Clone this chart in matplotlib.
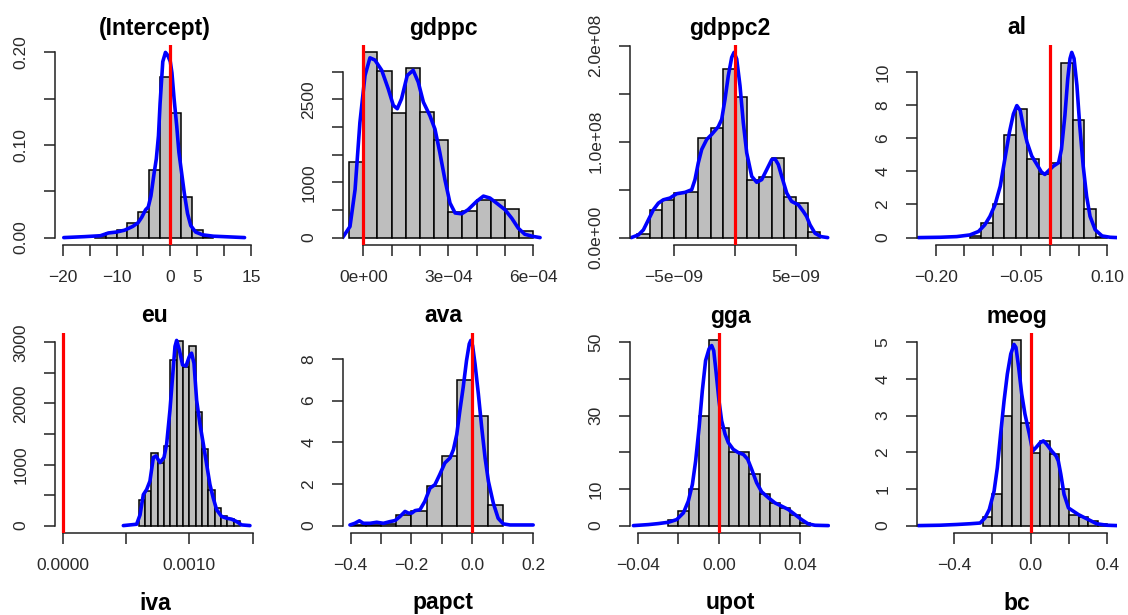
import numpy as np
import matplotlib.pyplot as plt

plt.rcParams["font.family"] = ["Liberation Sans", "DejaVu Sans"]

MINUS = "\u2212"

# ---------------- data ----------------
# (Intercept)
intercept_start, intercept_binw = -14.0, 2.0
intercept_heights = [0.002, 0.005, 0.0087, 0.016, 0.028, 0.073, 0.173, 0.135, 0.044, 0.008, 0.001]
intercept_dens_x = [-19.8, -16, -13, -11.5, -10, -8.5, -7, -6, -5.3, -4.6, -4.1, -3.6, -3.0, -2.6,
                    -2.2, -1.9, -1.4, -0.9, -0.5, 0.0, 0.3, 0.7, 1.2, 1.6, 2.1, 2.6, 3.2, 3.8, 4.7,
                    6, 8, 10, 13.8]
intercept_dens_y = [0.0, 0.001, 0.002, 0.005, 0.006, 0.008, 0.012, 0.016, 0.022, 0.030, 0.033, 0.045,
                    0.070, 0.085, 0.11, 0.145, 0.19, 0.200, 0.197, 0.19, 0.178, 0.15, 0.12, 0.092,
                    0.07, 0.048, 0.026, 0.013, 0.006, 0.003, 0.0015, 0.001, 0.0]

# gdppc (x in 1e-4)
gdppc_start, gdppc_binw = -0.5e-4, 0.5e-4
gdppc_heights = [1373, 3348, 3007, 2254, 3068, 2278, 1768, 456, 474, 674, 687, 522, 128]
gdppc_dens_x = np.array([-0.73, -0.47, -0.29, -0.12, 0.06, 0.235, 0.41, 0.65, 0.88, 1.06, 1.2, 1.35,
                         1.55, 1.76, 1.94, 2.12, 2.35, 2.53, 2.7, 2.88, 3.06, 3.24, 3.47, 3.7, 4.0,
                         4.24, 4.47, 4.7, 5.0, 5.24, 5.47, 5.7, 6.0, 6.24]) * 1e-4
gdppc_dens_y = [0, 200, 870, 2080, 2930, 3250, 3210, 3025, 2690, 2390, 2330, 2510, 2930, 3025, 2810,
                2450, 2205, 1960, 1540, 1050, 625, 445, 430, 505, 655, 750, 715, 625, 505, 350, 170,
                60, 20, 0]

# gdppc2 (x in 1e-9, y in 1e8)
gdppc2_start, gdppc2_binw = -8e-9, 1e-9
gdppc2_heights = np.array([0.035, 0.29, 0.394, 0.464, 0.471, 1.04, 1.145, 1.755, 1.469, 0.604, 0.63,
                           0.83, 0.419, 0.36, 0.063]) * 1e8
gdppc2_dens_x = np.array([-8.5, -7.92, -7.51, -7.10, -6.69, -6.28, -5.87, -5.33, -4.78, -4.10, -3.55,
                          -3.28, -3.01, -2.73, -2.32, -1.91, -1.37, -1.09, -0.82, -0.55, -0.27, -0.08,
                          0.14, 0.41, 0.68, 0.96, 1.37, 1.78, 2.19, 2.60, 3.01, 3.28, 3.55, 3.83,
                          4.24, 4.64, 5.19, 5.60, 5.87, 6.15, 6.56, 7.05, 7.60]) * 1e-9
gdppc2_dens_y = np.array([0.0, 0.028, 0.080, 0.185, 0.290, 0.359, 0.394, 0.412, 0.457, 0.471, 0.499,
                          0.604, 0.778, 0.918, 1.022, 1.075, 1.155, 1.232, 1.441, 1.685, 1.877, 1.929,
                          1.860, 1.581, 1.197, 0.883, 0.638, 0.576, 0.604, 0.708, 0.813, 0.820, 0.761,
                          0.638, 0.464, 0.377, 0.342, 0.272, 0.220, 0.133, 0.045, 0.010, 0.0]) * 1e8

# al
al_start, al_binw = -0.14, 0.02
al_heights = [0.1, 0.91, 2.03, 6.2, 7.77, 4.77, 3.81, 4.48, 10.57, 7.1, 1.74, 0.06]
al_dens_x = [-0.230, -0.192, -0.163, -0.140, -0.125, -0.114, -0.105, -0.096, -0.087, -0.079, -0.071,
             -0.064, -0.058, -0.052, -0.047, -0.040, -0.032, -0.023, -0.015, -0.009, -0.003, 0.006,
             0.015, 0.020, 0.026, 0.031, 0.035, 0.038, 0.042, 0.047, 0.052, 0.058, 0.064, 0.070,
             0.079, 0.091, 0.105, 0.117]
al_dens_y = [0, 0.02, 0.06, 0.16, 0.37, 0.77, 1.28, 1.99, 3.10, 4.73, 6.35, 7.46, 7.97, 7.67, 6.75,
             5.74, 4.93, 4.42, 3.96, 3.81, 4.02, 4.32, 4.52, 5.33, 7.36, 9.59, 10.81, 11.18, 10.81,
             9.19, 6.75, 4.32, 2.49, 1.28, 0.47, 0.10, 0.02, 0]

# eu (x in 1e-3)
eu_start, eu_binw = 0.0006, 0.00005
eu_heights = [424, 562, 1196, 1031, 1306, 2712, 3015, 2602, 2933, 1858, 1251, 590, 287, 149, 110, 77]
eu_dens_x = np.array([0.479, 0.584, 0.611, 0.637, 0.663, 0.689, 0.716, 0.737, 0.768, 0.800, 0.821,
                      0.847, 0.868, 0.887, 0.900, 0.921, 0.947, 0.974, 1.000, 1.018, 1.037, 1.058,
                      1.084, 1.111, 1.137, 1.163, 1.189, 1.216, 1.255, 1.295, 1.334, 1.374, 1.413,
                      1.479]) * 1e-3
eu_dens_y = [0, 22, 176, 507, 590, 728, 1114, 1141, 1031, 1114, 1334, 1885, 2437, 2933, 3032, 2878,
             2630, 2613, 2768, 2823, 2657, 2051, 1665, 1334, 1003, 673, 452, 259, 149, 121, 105, 66,
             11, 0]

# ava
ava_start, ava_binw = -0.40, 0.05
ava_heights = [0.05, 0.05, 0.1, 0.52, 0.71, 1.88, 3.36, 6.99, 5.26, 1.0]
ava_dens_x = [-0.402, -0.386, -0.371, -0.358, -0.336, -0.314, -0.292, -0.271, -0.254, -0.238, -0.221,
              -0.210, -0.199, -0.188, -0.172, -0.156, -0.139, -0.123, -0.107, -0.090, -0.073, -0.062,
              -0.051, -0.041, -0.030, -0.019, -0.010, -0.005, 0.001, 0.009, 0.020, 0.031, 0.042,
              0.053, 0.069, 0.085, 0.102, 0.124, 0.200]
ava_dens_y = [0.03, 0.11, 0.23, 0.11, 0.11, 0.16, 0.11, 0.19, 0.24, 0.43, 0.68, 0.60, 0.60, 0.72,
              0.76, 1.16, 1.80, 1.96, 2.45, 3.01, 3.25, 3.65, 4.38, 5.50, 6.63, 7.92, 8.72, 8.89,
              8.64, 7.76, 6.31, 4.70, 3.25, 2.12, 1.08, 0.35, 0.08, 0.03, 0.03]

# gga
gga_start, gga_binw = -0.025, 0.005
gga_heights = [1.4, 3.9, 9.85, 29.9, 50.5, 26.7, 20.2, 20.2, 14.2, 8.5, 6.2, 4.8, 3.0, 0.7]
gga_dens_x = [-0.0421, -0.0348, -0.0298, -0.0249, -0.0208, -0.0175, -0.0151, -0.0131, -0.0115,
              -0.0098, -0.0082, -0.0066, -0.0049, -0.0036, -0.0026, -0.0015, 0.0, 0.0013, 0.0030,
              0.0046, 0.0070, 0.0095, 0.0120, 0.0141, 0.0161, 0.0185, 0.0210, 0.0243, 0.0275,
              0.0308, 0.0341, 0.0374, 0.0407, 0.0439, 0.0472, 0.0538]
gga_dens_y = [0, 0.27, 0.55, 0.91, 1.64, 3.47, 6.66, 11.2, 17.6, 26.7, 36.8, 45.0, 48.2, 49.1, 47.7,
              42.2, 34.0, 28.6, 24.9, 22.6, 20.8, 19.9, 19.4, 18.1, 15.3, 11.7, 9.2, 7.6, 6.2, 5.3,
              4.4, 3.0, 1.6, 0.46, 0.09, 0]

# meog
meog_start, meog_binw = -0.25, 0.05
meog_heights = [0.23, 0.85, 2.99, 5.05, 2.81, 1.99, 2.31, 1.94, 1.0, 0.30, 0.23, 0.12, 0.05]
meog_dens_x = [-0.586, -0.473, -0.386, -0.317, -0.264, -0.238, -0.216, -0.191, -0.174, -0.157,
               -0.139, -0.122, -0.104, -0.087, -0.077, -0.063, -0.047, -0.030, -0.007, 0.010,
               0.028, 0.049, 0.066, 0.083, 0.110, 0.132, 0.144, 0.157, 0.174, 0.197, 0.223,
               0.249, 0.275, 0.310, 0.344, 0.397, 0.450]
meog_dens_y = [0, 0.01, 0.03, 0.05, 0.07, 0.21, 0.44, 0.94, 1.58, 2.49, 3.40, 4.13, 4.68, 4.94,
               4.86, 4.32, 3.59, 3.04, 2.49, 2.03, 2.13, 2.26, 2.31, 2.22, 2.03, 1.90, 1.76, 1.40,
               0.85, 0.48, 0.39, 0.30, 0.23, 0.14, 0.05, 0.01, 0]

# reference value marked by the red line
ref_value = 0.0

next_row_titles = ["iva", "papct", "upot", "bc"]

panels = [
    dict(title="(Intercept)", start=intercept_start, binw=intercept_binw, h=intercept_heights,
         dx=intercept_dens_x, dy=intercept_dens_y, xlim=(-21.43, 15.74),
         xticks=np.arange(-20, 16, 5), xlabels=[MINUS + "20", "", MINUS + "10", "", "0", "5", "", "15"],
         yticks=np.arange(0, 0.21, 0.05), ylabels=["0.00", "", "0.10", "", "0.20"]),
    dict(title="gdppc", start=gdppc_start, binw=gdppc_binw, h=gdppc_heights,
         dx=gdppc_dens_x, dy=gdppc_dens_y, xlim=(-0.7166e-4, 6.343e-4),
         xticks=np.arange(0, 7) * 1e-4, xlabels=["0e+00", "", "", "3e" + MINUS + "04", "", "", "6e" + MINUS + "04"],
         yticks=np.arange(0, 3001, 500), ylabels=["0", "", "1000", "", "", "2500", ""]),
    dict(title="gdppc2", start=gdppc2_start, binw=gdppc2_binw, h=gdppc2_heights,
         dx=gdppc2_dens_x, dy=gdppc2_dens_y, xlim=(-8.607e-9, 7.787e-9),
         xticks=[-5e-9, 0, 5e-9], xlabels=[MINUS + "5e" + MINUS + "09", "", "5e" + MINUS + "09"],
         yticks=np.arange(0, 2.01, 0.5) * 1e8, ylabels=["0.0e+00", "", "1.0e+08", "", "2.0e+08"]),
    dict(title="al", start=al_start, binw=al_binw, h=al_heights,
         dx=al_dens_x, dy=al_dens_y, xlim=(-0.2325, 0.1171),
         xticks=np.arange(-0.20, 0.101, 0.05),
         xlabels=[MINUS + "0.20", "", "", MINUS + "0.05", "", "", "0.10"],
         yticks=np.arange(0, 11, 2), ylabels=["0", "2", "4", "6", "8", "10"]),
    dict(title="eu", start=eu_start, binw=eu_binw, h=eu_heights,
         dx=eu_dens_x, dy=eu_dens_y, xlim=(-6.08e-5, 1.519e-3),
         xticks=[0, 0.0005, 0.0010, 0.0015], xlabels=["0.0000", "", "0.0010", ""],
         yticks=np.arange(0, 3001, 500), ylabels=["0", "", "1000", "", "2000", "", "3000"]),
    dict(title="ava", start=ava_start, binw=ava_binw, h=ava_heights,
         dx=ava_dens_x, dy=ava_dens_y, xlim=(-0.4248, 0.2323),
         xticks=np.arange(-0.4, 0.21, 0.1),
         xlabels=[MINUS + "0.4", "", MINUS + "0.2", "", "0.0", "", "0.2"],
         yticks=np.arange(0, 9, 2), ylabels=["0", "2", "4", "6", "8"]),
    dict(title="gga", start=gga_start, binw=gga_binw, h=gga_heights,
         dx=gga_dens_x, dy=gga_dens_y, xlim=(-0.04378, 0.0546),
         xticks=np.arange(-0.04, 0.041, 0.02), xlabels=[MINUS + "0.04", "", "0.00", "", "0.04"],
         yticks=np.arange(0, 51, 10), ylabels=["0", "10", "", "30", "", "50"]),
    dict(title="meog", start=meog_start, binw=meog_binw, h=meog_heights,
         dx=meog_dens_x, dy=meog_dens_y, xlim=(-0.593, 0.450),
         xticks=np.arange(-0.4, 0.41, 0.2), xlabels=[MINUS + "0.4", "", "0.0", "", "0.4"],
         yticks=np.arange(0, 6, 1), ylabels=["0", "1", "2", "3", "4", "5"]),
]

# ---------------- layout (pixels of the 1128x615 canvas) ----------------
W, H = 1128, 615
col_left = [55, 343, 630, 917]
plot_w = 200
row_top = [45, 333]
plot_h = 200

fig = plt.figure(figsize=(W / 100, H / 100), dpi=100)

for i, p in enumerate(panels):
    r, c = divmod(i, 4)
    ax = fig.add_axes([col_left[c] / W, 1 - (row_top[r] + plot_h) / H, plot_w / W, plot_h / H])

    heights = np.asarray(p["h"], dtype=float)
    edges = p["start"] + p["binw"] * np.arange(len(heights))
    ax.bar(edges, heights, width=p["binw"], align="edge", color="#bebebe",
           edgecolor="black", linewidth=1.1, zorder=1)
    ax.plot(p["dx"], p["dy"], color="blue", linewidth=2.6, zorder=2, solid_capstyle="round")
    ax.axvline(ref_value, color="red", linewidth=2.3, zorder=3)

    top = max(heights.max(), np.max(p["dy"]))
    ax.set_ylim(-0.04 * top, 1.04 * top)
    ax.set_xlim(*p["xlim"])

    ax.set_xticks(p["xticks"])
    ax.set_xticklabels(p["xlabels"])
    ax.set_yticks(p["yticks"])
    ax.set_yticklabels(p["ylabels"])
    ax.spines["top"].set_visible(False)
    ax.spines["right"].set_visible(False)
    for side in ("left", "bottom"):
        ax.spines[side].set_linewidth(1.1)
        ax.spines[side].set_color("#222222")
    ax.spines["bottom"].set_bounds(p["xticks"][0], p["xticks"][-1])
    ax.spines["left"].set_bounds(p["yticks"][0], p["yticks"][-1])
    ax.tick_params(axis="both", direction="out", length=8, width=1.1, color="#222222",
                   labelsize=12.5, labelcolor="#2a2a2a")
    ax.tick_params(axis="x", pad=10)
    ax.tick_params(axis="y", pad=11, labelrotation=90)
    for lbl in ax.get_yticklabels():
        lbl.set_va("center")
    ax.set_facecolor("none")

    fig.text((col_left[c] + plot_w / 2) / W, 1 - (row_top[r] - 17) / H, p["title"],
             ha="center", va="center", fontsize=16.5, fontweight="bold")

# titles of the next (cut-off) row
for c, t in enumerate(next_row_titles):
    fig.text((col_left[c] + plot_w / 2) / W, 1 - 603 / H, t,
             ha="center", va="center", fontsize=16.5, fontweight="bold")

fig.savefig("out.png", dpi=100, facecolor="white")
